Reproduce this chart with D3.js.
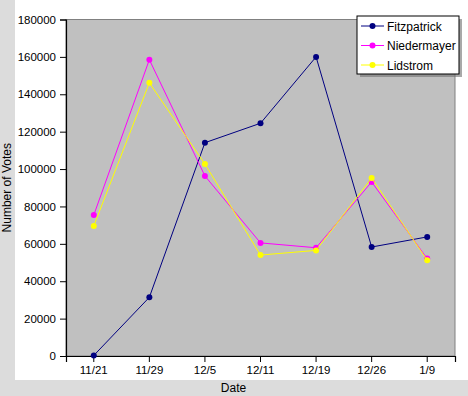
<!DOCTYPE html>
<html>
<head>
<meta charset="utf-8">
<script src="https://cdn.jsdelivr.net/npm/d3@7"></script>
<style>
  html, body { margin: 0; padding: 0; background: #dcdcdc; }
  svg { display: block; font-family: Arial, "Liberation Sans", sans-serif; }
</style>
</head>
<body>
<div id="chart"></div>
<script>
// Poll results by date
const dates = ['11/21', '11/29', '12/5', '12/11', '12/19', '12/26', '1/9'];
const fitzpatrick = [300, 31400, 114100, 124500, 160000, 58300, 63700];
const niedermayer = [75400, 158500, 96300, 60500, 57900, 93100, 52100];
const lidstrom = [69600, 146100, 102700, 54000, 56500, 95200, 51200];
const yTicks = [0, 20000, 40000, 60000, 80000, 100000, 120000, 140000, 160000, 180000];

const series = [
  { name: 'Fitzpatrick', values: fitzpatrick, color: '#000080' },
  { name: 'Niedermayer', values: niedermayer, color: '#ff00ff' },
  { name: 'Lidstrom', values: lidstrom, color: '#ffff00' }
];

const W = 468, H = 396;
const plot = { left: 66, top: 19.5, right: 455, bottom: 356 };

const svg = d3.select('#chart').append('svg')
  .attr('width', W)
  .attr('height', H);

// outer frame: gray window, white chart area
svg.append('rect').attr('width', W).attr('height', H).attr('fill', '#dcdcdc');
svg.append('rect')
  .attr('x', 15).attr('y', 0)
  .attr('width', W - 15).attr('height', 380)
  .attr('fill', '#ffffff');

const x = d3.scaleBand()
  .domain(dates)
  .range([plot.left, plot.right]);

const y = d3.scaleLinear()
  .domain([0, 180000])
  .range([plot.bottom, plot.top]);

// plot background
svg.append('rect')
  .attr('x', plot.left).attr('y', plot.top)
  .attr('width', plot.right - plot.left)
  .attr('height', plot.bottom - plot.top)
  .attr('fill', '#c0c0c0')
  .attr('stroke', '#808080')
  .attr('stroke-width', 1);

// axes
const yAxis = d3.axisLeft(y)
  .tickValues(yTicks)
  .tickSize(6)
  .tickPadding(4)
  .tickFormat(d3.format('d'));

const xAxis = d3.axisBottom(x)
  .tickSize(6)
  .tickPadding(4);

const yg = svg.append('g')
  .attr('transform', `translate(${plot.left},0)`)
  .call(yAxis);

const xg = svg.append('g')
  .attr('transform', `translate(0,${plot.bottom})`)
  .call(xAxis);

[xg, yg].forEach(g => {
  g.select('.domain').attr('stroke', '#000').attr('stroke-width', 1.2);
  g.selectAll('.tick line').attr('stroke', '#000');
  g.selectAll('.tick text')
    .attr('fill', '#000')
    .attr('font-size', '11.5px')
    .attr('font-family', 'Arial, "Liberation Sans", sans-serif');
});

// axis titles
svg.append('text')
  .attr('x', (plot.left + plot.right) / 2 - 27)
  .attr('y', 392)
  .attr('text-anchor', 'middle')
  .attr('font-size', '12px')
  .attr('fill', '#000')
  .text('Date');

svg.append('text')
  .attr('transform', `translate(11,${(plot.top + plot.bottom) / 2}) rotate(-90)`)
  .attr('text-anchor', 'middle')
  .attr('font-size', '12px')
  .attr('fill', '#000')
  .text('Number of Votes');

// lines and markers
const line = d3.line()
  .x((d, i) => x(dates[i]) + x.bandwidth() / 2)
  .y(d => y(d));

series.forEach(s => {
  svg.append('path')
    .datum(s.values)
    .attr('d', line)
    .attr('fill', 'none')
    .attr('stroke', s.color)
    .attr('stroke-width', 1);

  svg.append('g').selectAll('circle')
    .data(s.values)
    .join('circle')
    .attr('cx', (d, i) => x(dates[i]) + x.bandwidth() / 2)
    .attr('cy', d => y(d))
    .attr('r', 3)
    .attr('fill', s.color);
});

// legend
const legend = { x: 357, y: 16, w: 102, h: 58 };
svg.append('rect')
  .attr('x', legend.x + 3).attr('y', legend.y + 3)
  .attr('width', legend.w).attr('height', legend.h)
  .attr('fill', '#707070')
  .attr('opacity', 0.6);
svg.append('rect')
  .attr('x', legend.x).attr('y', legend.y)
  .attr('width', legend.w).attr('height', legend.h)
  .attr('fill', '#fff')
  .attr('stroke', '#000')
  .attr('stroke-width', 1);

series.forEach((s, i) => {
  const ly = legend.y + 10 + i * 19.5;
  svg.append('line')
    .attr('x1', legend.x + 4).attr('x2', legend.x + 27)
    .attr('y1', ly).attr('y2', ly)
    .attr('stroke', s.color)
    .attr('stroke-width', 1);
  svg.append('circle')
    .attr('cx', legend.x + 15.5).attr('cy', ly)
    .attr('r', 3).attr('fill', s.color);
  svg.append('text')
    .attr('x', legend.x + 30).attr('y', ly + 4.5)
    .attr('font-size', '12px')
    .attr('fill', '#000')
    .text(s.name);
});
</script>
</body>
</html>
